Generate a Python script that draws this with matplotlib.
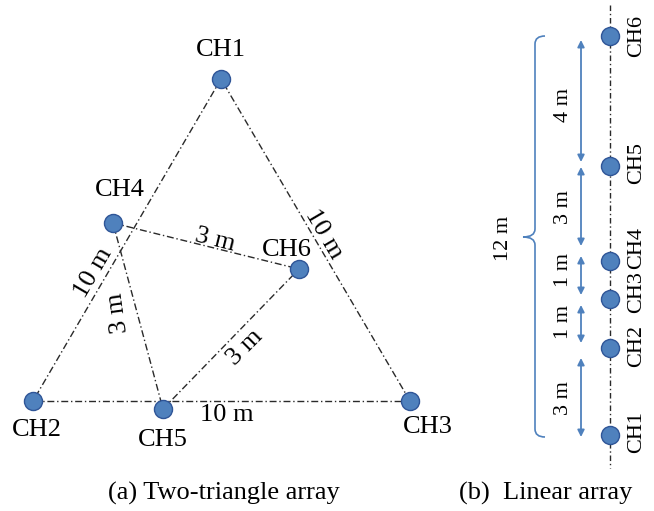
import matplotlib
matplotlib.use('Agg')
import matplotlib.pyplot as plt
from matplotlib.path import Path
from matplotlib.patches import PathPatch

plt.rcParams['font.family'] = ['Liberation Serif', 'DejaVu Serif']

# (a) two-triangle array: sensor positions as drawn (pixels)
tri_names = ['CH1', 'CH2', 'CH3', 'CH4', 'CH5', 'CH6']
tri_x = [221, 33, 410, 113, 163, 299]
tri_y = [79, 401, 401, 223, 409, 269]
tri_label_x = [221, 37, 428, 120, 163, 287]
tri_label_y = [50, 430, 427, 190, 440, 250]

tri_edges = [(0, 1), (1, 2), (2, 0), (3, 5), (3, 4), (4, 5)]
edge_text = ['10 m', '10 m', '10 m', '3 m', '3 m', '3 m']
edge_text_x = [93, 227, 324, 215, 118, 245]
edge_text_y = [273, 415, 234, 240, 313, 347]
edge_text_rot = [59.6, 0, -59.6, -14, 98, 45]

# (b) linear array
lin_names = ['CH1', 'CH2', 'CH3', 'CH4', 'CH5', 'CH6']
lin_y = [435, 348, 299, 261, 166, 36]
lin_label_y = [432, 346, 292, 248, 163, 36]
lin_x = 610
gap_text = ['3 m', '1 m', '1 m', '3 m', '4 m']
gap_start = [437, 343, 295, 246, 162]
gap_end = [358, 305, 256, 167, 40]
gap_text_y = [398, 322, 270, 207, 105]

blue = '#4F81BD'
edge_blue = '#2F5597'
line_col = '#2a2a2a'
fs = 19
fs_b = 16

fig = plt.figure(figsize=(6.54, 5.11), dpi=100)
ax = fig.add_axes([0, 0, 1, 1])
ax.set_xlim(0, 654)
ax.set_ylim(511, 0)
ax.axis('off')

# triangle lines
for (i, j) in tri_edges:
    ax.plot([tri_x[i], tri_x[j]], [tri_y[i], tri_y[j]], color=line_col,
            lw=1.0, dashes=(5, 2, 1, 2), zorder=1)
ax.plot(tri_x, tri_y, 'o', ms=13, mfc=blue, mec=edge_blue, mew=1.0, zorder=3)
for n, lx, ly in zip(tri_names, tri_label_x, tri_label_y):
    ax.text(lx, ly, n, fontsize=fs, ha='center', va='center')
for t, tx, ty, r in zip(edge_text, edge_text_x, edge_text_y, edge_text_rot):
    ax.text(tx, ty, t, fontsize=fs, ha='center', va='center', rotation=r,
            rotation_mode='anchor')

# linear array
ax.plot([lin_x, lin_x], [5, 468], color=line_col, lw=1.0,
        dashes=(4, 2, 1, 2), zorder=1)
ax.plot([lin_x] * len(lin_y), lin_y, 'o', ms=13, mfc=blue, mec=edge_blue,
        mew=1.0, zorder=3)
for n, ly in zip(lin_names, lin_label_y):
    ax.text(637, ly, n, fontsize=fs_b, ha='center', va='center', rotation=90)

for a, b, t, ty in zip(gap_start, gap_end, gap_text, gap_text_y):
    ax.annotate('', xy=(581, b), xytext=(581, a),
                arrowprops=dict(arrowstyle='<|-|>', color=blue, lw=1.3,
                                mutation_scale=10, shrinkA=0, shrinkB=0))
    ax.text(564, ty, t, fontsize=fs_b, ha='center', va='center', rotation=90)

# brace
verts = [(545, 36), (535, 36), (535, 44), (535, 229), (535, 237), (523, 237),
         (535, 237), (535, 245), (535, 429), (535, 437), (545, 437)]
codes = [Path.MOVETO, Path.CURVE3, Path.CURVE3, Path.LINETO, Path.CURVE3,
         Path.CURVE3, Path.CURVE3, Path.CURVE3, Path.LINETO, Path.CURVE3,
         Path.CURVE3]
ax.add_patch(PathPatch(Path(verts, codes), fill=False, edgecolor=blue, lw=1.2))
ax.text(503, 238, '12 m', fontsize=fs_b, ha='center', va='center', rotation=90)

# captions
ax.text(224, 493, '(a) Two-triangle array', fontsize=fs, ha='center', va='center')
ax.text(546, 493, '(b)  Linear array', fontsize=fs, ha='center', va='center')

fig.savefig('out.png', dpi=100)
